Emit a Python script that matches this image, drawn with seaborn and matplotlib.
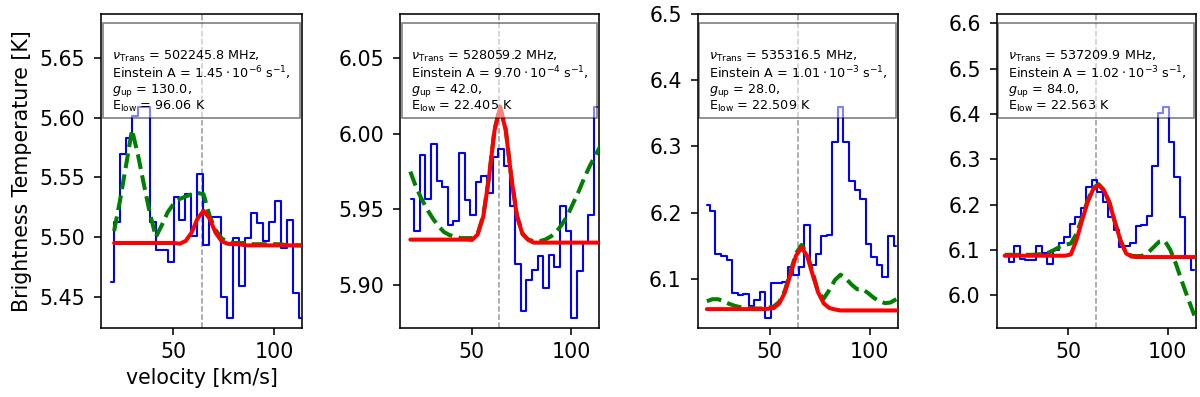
import numpy as np
import matplotlib
matplotlib.use("Agg")
import matplotlib.pyplot as plt
from matplotlib.patches import Rectangle
import seaborn as sns

# ---------------- data ----------------
# observed spectra (brightness temperature per channel)
obs_start = [18.9, 19.7, 18.67, 18.7]        # km/s, first channel
obs_width = [2.967, 2.822, 2.783, 2.774]     # km/s, channel width

obs1 = [5.462, 5.513, 5.570, 5.583, 5.602, 5.609, 5.609, 5.513, 5.489, 5.489,
        5.479, 5.534, 5.514, 5.536, 5.501, 5.553, 5.493, 5.517, 5.517, 5.450,
        5.432, 5.499, 5.459, 5.499, 5.520, 5.512, 5.497, 5.513, 5.530, 5.491,
        5.514, 5.453, 5.432]
obs2 = [5.957, 5.936, 5.986, 5.957, 5.993, 5.969, 5.965, 5.940, 5.942, 5.987,
        5.956, 5.946, 5.968, 5.972, 5.961, 5.985, 5.990, 5.979, 5.952, 5.914,
        5.883, 5.903, 5.910, 5.919, 5.898, 5.920, 5.912, 5.952, 5.936, 5.878,
        5.909, 5.928, 5.946, 6.018]
obs3 = [6.211, 6.203, 6.137, 6.134, 6.128, 6.079, 6.076, 6.077, 6.059, 6.068,
        6.080, 6.040, 6.093, 6.094, 6.095, 6.118, 6.106, 6.118, 6.181, 6.121,
        6.138, 6.165, 6.166, 6.306, 6.359, 6.307, 6.247, 6.234, 6.220, 6.153,
        6.133, 6.121, 6.103, 6.165, 6.149]
obs4 = [6.087, 6.074, 6.108, 6.080, 6.078, 6.078, 6.108, 6.094, 6.069, 6.100,
        6.114, 6.129, 6.158, 6.173, 6.192, 6.238, 6.254, 6.228, 6.206, 6.173,
        6.144, 6.107, 6.109, 6.114, 6.153, 6.155, 6.175, 6.285, 6.401, 6.415,
        6.337, 6.260, 6.172, 6.081, 6.055]

# model spectra (single-line fit = red, full model = green)
mod_start = [20.5, 19.2, 18.6, 18.0]
mod_width = [2.967, 2.822, 2.783, 2.774]

line1 = [5.495] * 11 + [5.4944, 5.4967, 5.5038, 5.5156, 5.522, 5.5156, 5.5038,
                        5.4967, 5.4944, 5.494, 5.494] + [5.493] * 11
full1 = [5.505, 5.531, 5.560, 5.590, 5.569, 5.544, 5.520, 5.500, 5.510, 5.521,
         5.528, 5.532, 5.534, 5.536, 5.537, 5.536, 5.518, 5.506, 5.499, 5.496,
         5.495, 5.495, 5.495, 5.494, 5.494, 5.494, 5.494, 5.494, 5.494, 5.493,
         5.493, 5.493, 5.493]

line2 = [5.930] * 11 + [5.9298, 5.9334, 5.9453, 5.9708, 6.0023, 6.0175, 6.0023,
                        5.9708, 5.9453, 5.9334, 5.9298] + [5.928] * 13
full2 = [5.975, 5.965, 5.957, 5.950, 5.944, 5.939, 5.935, 5.933, 5.932, 5.931,
         5.931, 5.931, 5.934, 5.946, 5.971, 6.003, 6.018, 6.003, 5.971, 5.946,
         5.934, 5.930, 5.929, 5.929, 5.930, 5.932, 5.935, 5.940, 5.946, 5.954,
         5.962, 5.971, 5.979, 5.986, 5.993]

line3 = [6.054] * 11 + [6.0545, 6.0556, 6.0625, 6.0789, 6.106, 6.1345, 6.147,
                        6.1345, 6.106, 6.0789, 6.0625, 6.0556, 6.0535] + [6.052] * 12
full3 = [6.066, 6.069, 6.069, 6.066, 6.062, 6.059, 6.057, 6.056, 6.055, 6.055,
         6.055, 6.056, 6.058, 6.065, 6.082, 6.110, 6.138, 6.151, 6.138, 6.110,
         6.079, 6.070, 6.083, 6.098, 6.106, 6.100, 6.091, 6.084, 6.084, 6.078,
         6.071, 6.066, 6.063, 6.064, 6.069, 6.074]

line4 = [6.087] * 12 + [6.090, 6.121, 6.164, 6.204, 6.233, 6.243, 6.231, 6.203,
                        6.160, 6.120, 6.092, 6.085] + [6.084] * 12
full4 = [6.089, 6.089, 6.089, 6.089, 6.089, 6.089, 6.090, 6.091, 6.094, 6.100,
         6.107, 6.111, 6.114, 6.135, 6.170, 6.208, 6.236, 6.245, 6.232, 6.204,
         6.160, 6.120, 6.093, 6.087, 6.086, 6.087, 6.094, 6.106, 6.118, 6.120,
         6.100, 6.070, 6.034, 6.000, 5.967, 5.935]

v_source = 64.0
freqs = ["502245.8", "528059.2", "535316.5", "537209.9"]
einstein_mant = ["1.45", "9.70", "1.01", "1.02"]
einstein_exp = ["-6", "-4", "-3", "-3"]
g_up = ["130.0", "42.0", "28.0", "84.0"]
e_low = ["96.06", "22.405", "22.509", "22.563"]

x_limits = (14.0, 114.0)
y_limits = [(5.4234, 5.6872), (5.8713, 6.0793), (6.025, 6.5), (5.9267, 6.6206)]
x_ticks = [50, 100]

observed = [obs1, obs2, obs3, obs4]
single = [line1, line2, line3, line4]
full = [full1, full2, full3, full4]

# ---------------- style ----------------
sns.set_style("ticks")
plt.rcParams.update({
    "font.family": ["DejaVu Sans"],
    "axes.edgecolor": "black",
    "axes.linewidth": 1.15,
    "text.color": "black",
    "axes.labelcolor": "black",
    "xtick.color": "black",
    "ytick.color": "black",
    "xtick.major.size": 5.0,
    "ytick.major.size": 5.0,
    "xtick.major.width": 1.15,
    "ytick.major.width": 1.15,
    "xtick.major.pad": 5.0,
    "ytick.major.pad": 6.5,
    "xtick.labelsize": 14.8,
    "ytick.labelsize": 14.8,
    "axes.labelsize": 14.8,
    "mathtext.default": "it",
})

fig = plt.figure(figsize=(12, 3.97), dpi=100)
lefts = [0.0842, 0.3333, 0.5814, 0.8306]
widths = [0.1675, 0.1658, 0.1667, 0.1658]
bottom, height = 0.173, 0.7917

for i in range(4):
    ax = fig.add_axes([lefts[i], bottom, widths[i], height])
    v_obs = obs_start[i] + obs_width[i] * np.arange(len(observed[i]))
    v_mod = mod_start[i] + mod_width[i] * np.arange(len(full[i]))

    ax.axvline(v_source, color="grey", ls="--", lw=1.1, alpha=0.8, zorder=1)
    sns.lineplot(x=v_obs, y=observed[i], drawstyle="steps-mid", color="blue",
                 lw=1.5, estimator=None, sort=False, ax=ax, zorder=2)
    sns.lineplot(x=v_mod, y=full[i], color="green", ls="--", lw=2.9,
                 estimator=None, sort=False, ax=ax, zorder=3)
    sns.lineplot(x=v_mod, y=single[i], color="red", lw=2.9,
                 estimator=None, sort=False, ax=ax, zorder=4)

    ax.set_xlim(*x_limits)
    ax.set_ylim(*y_limits[i])
    ax.set_xticks(x_ticks)

    ax.add_patch(Rectangle((0.008, 0.668), 0.984, 0.305, transform=ax.transAxes,
                           facecolor="white", edgecolor="black", alpha=0.5,
                           lw=1.2, zorder=5))
    lines = [
        r"$\nu_{\rm Trans}$ = " + freqs[i] + " MHz,",
        r"Einstein A = $\mathregular{" + einstein_mant[i] + r"\cdot 10^{"
        + einstein_exp[i] + r"}}$ s$^{\mathregular{-1}}$,",
        r"$g_{\rm up}$ = " + g_up[i] + ",",
        r"E$_{\rm low}$ = " + e_low[i] + " K",
    ]
    ax.text(0.055, 0.89, "\n".join(lines), transform=ax.transAxes,
            ha="left", va="top", fontsize=9.2, zorder=6, linespacing=1.02)

    if i == 0:
        ax.set_ylabel("Brightness Temperature [K]", labelpad=5)
        ax.set_xlabel("velocity [km/s]")
    else:
        ax.set_ylabel("")
        ax.set_xlabel("")

fig.savefig("out.png", dpi=100)
